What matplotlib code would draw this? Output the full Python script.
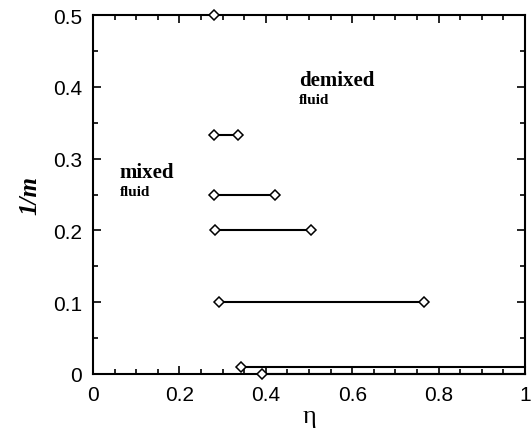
import numpy as np
import matplotlib.pyplot as plt
from matplotlib.ticker import MultipleLocator

# 1/m values and the two ends of each coexistence segment (eta)
inv_m = [0.5, 1 / 3, 0.25, 0.2, 0.1, 0.01, 0.0]
eta_low = [0.28, 0.28, 0.28, 0.283, 0.292, 0.342, 0.39]
eta_high = [np.nan, 0.336, 0.421, 0.505, 0.766, 1.0, 1.0]
# segments that run off the right edge have no closing marker
high_marker = [False, True, True, True, True, False, False]

plt.rcParams['font.family'] = ['Liberation Sans', 'DejaVu Sans']

fig = plt.figure(figsize=(5.32, 4.35), dpi=100)
ax = fig.add_axes([0.175, 0.138, 0.812, 0.825])

for y, lo, hi in zip(inv_m, eta_low, eta_high):
    if not np.isnan(hi):
        ax.plot([lo, hi], [y, y], color='black', lw=1.5, clip_on=False, zorder=2)

ax.plot(eta_low, inv_m, linestyle='none', marker='D', ms=5.5, mfc='white',
        mec='black', mew=1.1, clip_on=False, zorder=3)
hx = [h for h, m in zip(eta_high, high_marker) if m]
hy = [y for y, m in zip(inv_m, high_marker) if m]
ax.plot(hx, hy, linestyle='none', marker='D', ms=5.5, mfc='white',
        mec='black', mew=1.1, clip_on=False, zorder=3)

ax.set_xlim(0, 1)
ax.set_ylim(0, 0.5)
ax.xaxis.set_minor_locator(MultipleLocator(0.05))
ax.yaxis.set_minor_locator(MultipleLocator(0.05))
ax.set_xticks([0, 0.2, 0.4, 0.6, 0.8, 1.0])
ax.set_xticklabels(['0', '0.2', '0.4', '0.6', '0.8', '1'])
ax.set_yticks([0, 0.1, 0.2, 0.3, 0.4, 0.5])
ax.set_yticklabels(['0', '0.1', '0.2', '0.3', '0.4', '0.5'])
ax.tick_params(which='both', direction='in', top=True, right=True,
               labelsize=15, width=1.2)
ax.tick_params(which='major', length=6, pad=8)
ax.tick_params(which='minor', length=3.5)
for s in ax.spines.values():
    s.set_linewidth(1.5)

ax.set_xlabel('η', family=['Liberation Serif', 'DejaVu Serif'], fontsize=19,
              labelpad=1)
ax.set_ylabel('1/m', family=['Liberation Serif'], fontsize=18,
              fontweight='bold', style='italic', labelpad=8)

serif = ['Liberation Serif', 'DejaVu Serif']
ax.text(0.062, 0.274, 'mixed', family=serif, fontweight='bold', fontsize=15)
ax.text(0.062, 0.250, 'fluid', family=serif, fontweight='bold', fontsize=11)
ax.text(0.476, 0.402, 'demixed', family=serif, fontweight='bold', fontsize=15)
ax.text(0.476, 0.378, 'fluid', family=serif, fontweight='bold', fontsize=11)

fig.savefig('out.png', dpi=100)
